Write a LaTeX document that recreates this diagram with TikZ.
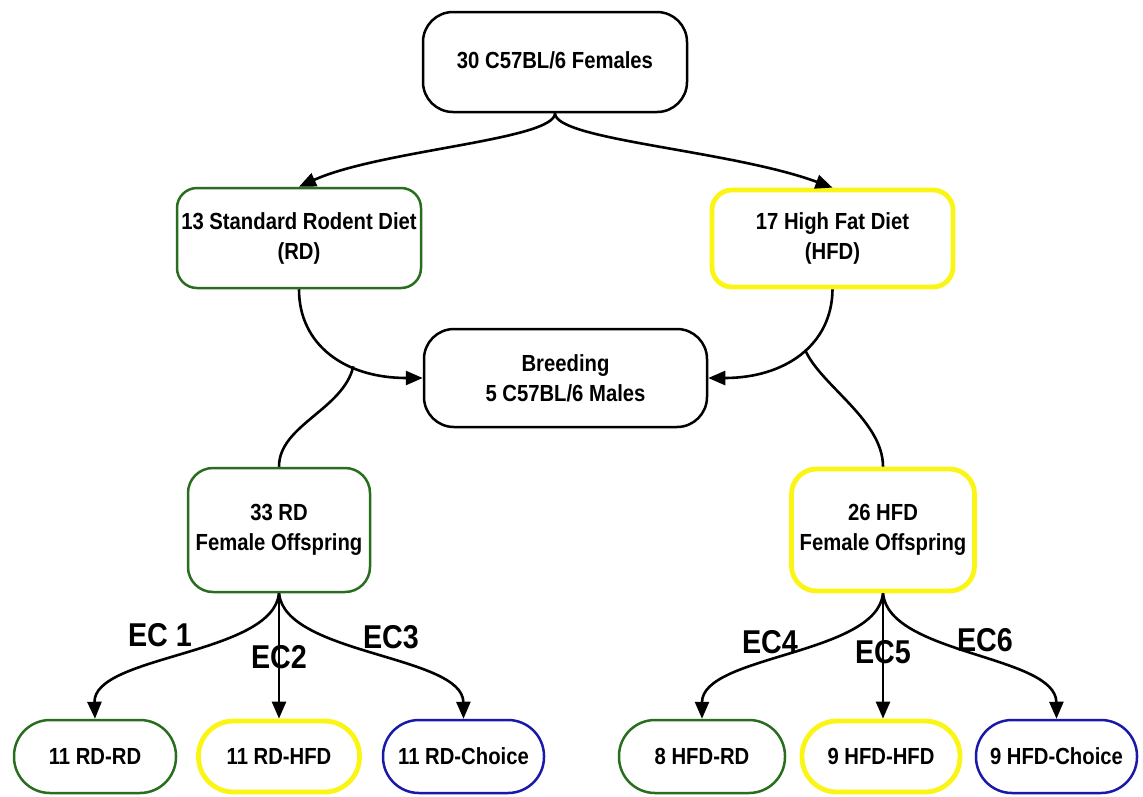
\documentclass[tikz,border=0pt]{standalone}
\usepackage{fontspec}
\setmainfont[FakeStretch=0.87]{Liberation Sans}
\usetikzlibrary{arrows.meta}
\definecolor{rdgreen}{RGB}{40,110,30}
\definecolor{hfdyellow}{RGB}{250,245,20}
\definecolor{chblue}{RGB}{25,25,170}
\begin{document}
\begin{tikzpicture}[x=1pt,y=-1pt,
  base/.style={rectangle, draw, line width=2.5pt, align=center, inner sep=0pt, text=black,
    font=\bfseries\fontsize{23.3}{30}\selectfont},
  blackbox/.style={base, draw=black},
  greenbox/.style={base, draw=rdgreen},
  yellowbox/.style={base, draw=hfdyellow, line width=4.8pt},
  bluebox/.style={base, draw=chblue},
  conn/.style={line width=2.6pt, draw=black},
  arr/.style={conn, -{Triangle[length=17pt,width=14pt]}},
  eclabel/.style={font=\bfseries\fontsize{33}{36}\selectfont, inner sep=0pt, text=black}]
\useasboundingbox (0,0) rectangle (1143,796);

% nodes
\node[blackbox, rounded corners=30pt, minimum width=264pt, minimum height=100pt] (top) at (555,62) {\raisebox{4pt}{30 C57BL/6 Females}};
\node[greenbox, rounded corners=20pt, minimum width=244pt, minimum height=100pt] (rd) at (299,238) {13 Standard Rodent Diet\\(RD)};
\node[yellowbox, rounded corners=20pt, minimum width=241pt, minimum height=97pt] (hfd) at (832.5,238.5) {17 High Fat Diet\\(HFD)};
\node[blackbox, rounded corners=30pt, minimum width=283pt, minimum height=98pt] (breed) at (565.5,378) {Breeding\\5 C57BL/6 Males};
\node[greenbox, rounded corners=25pt, minimum width=182pt, minimum height=124pt] (rdo) at (279,530) {33 RD\\Female Offspring};
\node[yellowbox, rounded corners=25pt, minimum width=183pt, minimum height=122pt] (hfdo) at (883,530) {26 HFD\\Female Offspring};

\node[greenbox, rounded corners=36pt, minimum width=162pt, minimum height=73pt] (rdrd) at (95,756.5) {11 RD-RD};
\node[yellowbox, rounded corners=35pt, minimum width=161pt, minimum height=71pt] (rdhfd) at (279,756.5) {11 RD-HFD};
\node[bluebox, rounded corners=36pt, minimum width=161pt, minimum height=73pt] (rdch) at (463.5,756.5) {11 RD-Choice};
\node[greenbox, rounded corners=36pt, minimum width=166pt, minimum height=73pt] (hfdrd) at (702,756.5) {8 HFD-RD};
\node[yellowbox, rounded corners=35pt, minimum width=158pt, minimum height=71pt] (hfdhfd) at (881,756.5) {9 HFD-HFD};
\node[bluebox, rounded corners=36pt, minimum width=161pt, minimum height=73pt] (hfdch) at (1056.5,756.5) {9 HFD-Choice};

% connectors
\draw[arr] (top.south) .. controls (555,140) and (380,150) .. (rd.north);
\draw[arr] (top.south) .. controls (555,140) and (730,150) .. (hfd.north);
\draw[arr] (rd.south) .. controls (299,345) and (345,378) .. (breed.west) coordinate[pos=0.65] (bl);
\draw[arr] (hfd.south) .. controls (832,345) and (785,378) .. (breed.east) coordinate[pos=0.45] (br);
\draw[conn] (bl) .. controls (343,410) and (279,425) .. (rdo.north);
\draw[conn] (br) .. controls (820,385) and (883,420) .. (hfdo.north);

\draw[arr] (rdo.south) .. controls (273,655) and (93,655) .. (rdrd.north);
\draw[arr] (rdo.south) -- (rdo.south |- rdhfd.north);
\draw[arr] (rdo.south) .. controls (285,655) and (463,655) .. (rdch.north);
\draw[arr] (hfdo.south) .. controls (877,655) and (702,655) .. (hfdrd.north);
\draw[arr] (hfdo.south) -- (hfdo.south |- hfdhfd.north);
\draw[arr] (hfdo.south) .. controls (889,655) and (1056,655) .. (hfdch.north);

% labels
\node[eclabel] (ec1) at (160,635) {EC 1};
\node[eclabel] (ec2) at (279,657) {EC2};
\node[eclabel] (ec3) at (391,637) {EC3};
\node[eclabel] (ec4) at (770,642) {EC4};
\node[eclabel] (ec5) at (883,652) {EC5};
\node[eclabel] (ec6) at (985,640) {EC6};
\end{tikzpicture}
\end{document}
